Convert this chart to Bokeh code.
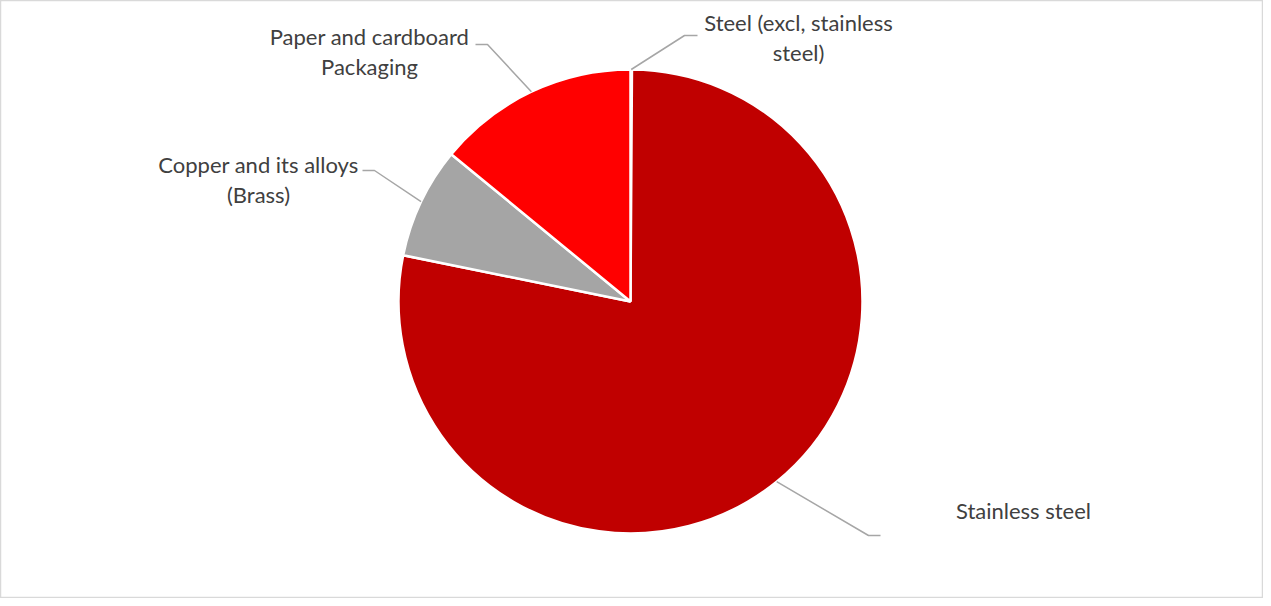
import numpy as np
from bokeh.plotting import figure
from bokeh.models import Range1d, ColumnDataSource
from bokeh.core.properties import value
from bokeh.embed import file_html
from bokeh.resources import INLINE

# ---- data ----
categories = ["Steel (excl, stainless steel)", "Stainless steel",
              "Copper and its alloys (Brass)", "Paper and cardboard Packaging"]
shares = [0.1, 78.1, 7.75, 14.05]
colors = ["#7F7F7F", "#C00000", "#A5A5A5", "#FF0000"]
label_lines = [["Steel (excl, stainless", "steel)"],
               ["Stainless steel"],
               ["Copper and its alloys", "(Brass)"],
               ["Paper and cardboard", "Packaging"]]

# ---- layout (screen pixel coordinates, y measured from the top) ----
W, H = 1263, 598
CX, CY, R = 638, 309, 232
label_pos = [(806, 30), (1031, 518), (266, 172), (377, 44)]
elbows = [[(692, 43), (705, 43)],
          [(876, 543), (888, 543)],
          [(382, 178), (370, 178)],
          [(495, 52), (483, 52)]]
LINE_H = 30
FONT = "Lato"
FSIZE = "22px"

def sy(y):
    return 606 - y

p = figure(width=W, height=H, output_backend="svg", toolbar_location=None,
           x_range=Range1d(8, 8 + W), y_range=Range1d(0, H),
           min_border=0)
p.axis.visible = False
p.grid.visible = False
p.outline_line_color = "#D9D9D9"
p.outline_line_width = 1.5
p.background_fill_color = "white"
p.border_fill_color = "white"

vals = np.array(shares, dtype=float)
frac = vals / vals.sum()
cum_end = np.cumsum(frac)
cum_start = cum_end - frac
start = np.pi / 2 - cum_start * 2 * np.pi
end = np.pi / 2 - cum_end * 2 * np.pi

src = ColumnDataSource(dict(cat=categories, start=start, end=end, color=colors,
                            x=[CX] * len(vals), y=[sy(CY)] * len(vals)))
p.wedge(x="x", y="y", radius=R, radius_units="screen",
        start_angle="start", end_angle="end", direction="clock",
        fill_color="color", line_color="white", line_width=2.5, source=src)

# leader lines from mid-angle of each slice
mid = (cum_start + frac / 2) * 2 * np.pi
for i in range(len(vals)):
    x0 = CX + R * np.sin(mid[i])
    y0 = CY - R * np.cos(mid[i])
    xs = [x0] + [e[0] for e in elbows[i]]
    ys = [sy(y0)] + [sy(e[1]) for e in elbows[i]]
    p.line(xs, ys, line_color="#A6A6A6", line_width=1.5)

# labels
tx, ty, tt = [], [], []
for i, lines in enumerate(label_lines):
    lx, ly = label_pos[i]
    for k, t in enumerate(lines):
        tx.append(lx)
        ty.append(sy(ly + k * LINE_H))
        tt.append(t)
p.text(x=tx, y=ty, text=tt, text_font=value(FONT), text_font_size=FSIZE,
       text_color="#404040", text_align="center", text_baseline="middle")

open("out.html", "w").write(file_html(p, INLINE))
